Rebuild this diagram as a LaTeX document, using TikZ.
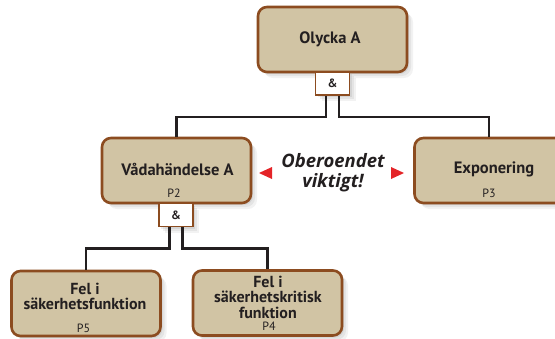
\documentclass[tikz,border=0pt]{standalone}
\usepackage{fontspec}
\setmainfont{PT Sans}
\newfontfamily\notefont{Open Sans}
\usetikzlibrary{shadows}

\definecolor{boxfill}{RGB}{209,196,164}
\definecolor{boxedge}{RGB}{140,76,32}
\definecolor{ink}{RGB}{35,31,32}
\definecolor{alert}{RGB}{228,36,40}

\tikzset{
  softshadow/.style={
    general shadow={fill=black,opacity=0.07,shadow xshift=2pt,shadow yshift=-2pt},
    general shadow={fill=black,opacity=0.06,shadow xshift=4pt,shadow yshift=-4pt},
    general shadow={fill=black,opacity=0.05,shadow xshift=6pt,shadow yshift=-6pt}},
  eventbox/.style={draw=boxedge, line width=2.6pt, fill=boxfill, rounded corners=9pt,
    minimum width=149pt, minimum height=65pt, inner sep=0pt, softshadow},
  andbox/.style={draw=boxedge, line width=1.8pt, fill=white, minimum width=34pt,
    minimum height=23pt, inner sep=0pt, text=ink,
    font=\bfseries\fontsize{12}{12}\selectfont, softshadow},
  title/.style={text=ink, align=center, inner sep=0pt,
    font=\bfseries\fontsize{16.5}{16.5}\selectfont},
  subtitle/.style={text=ink, align=center, inner sep=0pt,
    font=\bfseries\fontsize{16}{15.5}\selectfont},
  plabel/.style={text=ink, anchor=base, inner sep=0pt,
    font=\fontsize{12}{12}\selectfont},
  note/.style={text=ink, align=center, inner sep=0pt,
    font=\notefont\bfseries\itshape\fontsize{18.5}{20}\selectfont},
  wire/.style={draw=ink, line width=2.2pt},
  marker/.style={fill=alert, draw=none},
}

\begin{document}
\begin{tikzpicture}[x=1pt,y=-1pt]
\useasboundingbox (0,0) rectangle (555,338);
\clip (0,0) rectangle (555,338);

% event boxes
\node[eventbox] (olycka) at (332.5,39.5) {};
\node[eventbox] (vada)   at (176.5,170.5) {};
\node[eventbox] (expo)   at (489,170.5) {};
\node[eventbox] (fel5)   at (86,303.5) {};
\node[eventbox] (fel4)   at (267.5,303) {};

% AND gates hanging under their boxes
\node[andbox] (and1) at (332.5,83.5) {\&};
\node[andbox] (and2) at (176,215) {\&};

% box captions
\node[title] (tOlycka) at (330,39.5) {Olycka A};
\node[title] (tVada) at (177.5,169) {Vådahändelse A};
\node[title] (tExpo) at (494,169) {Exponering};
\node[subtitle] (tFel5) at (85,296.5) {Fel i\\säkerhetsfunktion};
\node[subtitle] (tFel4) at (268,297) {Fel i\\säkerhetskritisk\\funktion};

\node[plabel] (p2) at (174,197) {P2};
\node[plabel] (p3) at (489,197) {P3};
\node[plabel] (p5) at (83.5,332) {P5};
\node[plabel] (p4) at (269,330) {P4};

% independence note with markers
\node[note] (oberoende) at (333,172.5) {Oberoendet\\viktigt!};
\fill[marker] (259,173) -- (272,167) -- (272,179) -- cycle;
\fill[marker] (404,173) -- (391,167) -- (391,179) -- cycle;

% connectors
\coordinate (a1l) at ([xshift=-6.5pt]and1.south);
\coordinate (a1r) at ([xshift=6.5pt]and1.south);
\coordinate (a2l) at ([xshift=-6.5pt]and2.south);
\coordinate (a2r) at ([xshift=6.5pt]and2.south);

\draw[wire] (a1l) -- ++(0,21) -| (vada.north);
\draw[wire] (a1r) -- ++(0,21) -| (expo.north);
\draw[wire] (a2l) -- ++(0,21) -| (fel5.north);
\draw[wire] (a2r) -- ++(0,21) -| (fel4.north);
\end{tikzpicture}
\end{document}
